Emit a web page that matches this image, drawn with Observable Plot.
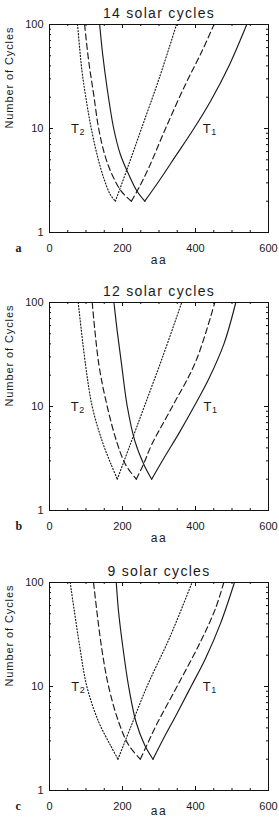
<!DOCTYPE html>
<html>
<head>
<meta charset="utf-8">
<script src="https://cdn.jsdelivr.net/npm/d3@7"></script>
<script src="https://cdn.jsdelivr.net/npm/@observablehq/plot@0.6"></script>
<style>
  html, body { margin: 0; padding: 0; background: #fff; }
  #chart { width: 279px; height: 819px; overflow: hidden; }
  #chart svg { display: block; }
</style>
</head>
<body>
<div id="chart"></div>
<script>
// ---- data ----
const titles = ["14 solar cycles", "12 solar cycles", "9 solar cycles"];
const panelLetters = ["a", "b", "c"];
const xTicks = [0, 200, 400, 600];
const xMinor = [50, 100, 150, 250, 300, 350, 450, 500, 550];
const yTicks = [1, 10, 100];
const yMinor = [2, 3, 4, 5, 6, 7, 8, 9, 20, 30, 40, 50, 60, 70, 80, 90];

// Panel a (14 solar cycles)
const aDotAA   = [76.9, 88.9, 102.6, 114.5, 130.1, 148.4, 166.7, 180.5, 214, 252, 300, 348];
const aDotN    = [100, 35.9, 17.1, 10, 5.63, 3.35, 2.31, 2, 4.2, 10, 30, 100];
const aDashAA  = [96.2, 107.2, 120.9, 134.7, 151.1, 171.3, 196.9, 224.4, 244.6, 272, 317.9, 372.8, 418.6, 450.7];
const aDashN   = [100, 44.9, 21.4, 10, 5.63, 3.61, 2.49, 2, 2.68, 4.19, 10, 26.7, 56.1, 100];
const aSolidAA = [137.4, 145.6, 157.6, 175.9, 194.2, 217.1, 240, 261, 299.5, 345.3, 395.7, 441.5, 491.9, 540.4];
const aSolidN  = [100, 52.1, 24.8, 10, 5.63, 3.61, 2.49, 2, 3.11, 5.42, 10, 18.4, 40.2, 100];

// Panel b (12 solar cycles)
const bDotAA   = [78.7, 98.8, 117, 144.5, 169, 185.7, 220, 259.8, 310, 362.2];
const bDotN    = [100, 25.1, 10, 4.62, 2.76, 2, 4.2, 10, 30, 100];
const bDashAA  = [117, 135.4, 158.2, 183.8, 208.5, 237.8, 257, 280, 336.6, 400.6, 452.8];
const bDashN   = [100, 25.1, 10, 4.62, 2.76, 2, 2.76, 4.3, 10, 27, 100];
const bSolidAA = [176.5, 185.7, 197.6, 213.1, 234.2, 258.8, 279.9, 313.7, 354.9, 396, 437.2, 478.4, 510.4];
const bSolidN  = [100, 52.4, 25.1, 10, 4.62, 2.76, 2, 3.2, 5.55, 10, 18.7, 40.5, 100];

// Panel c (9 solar cycles)
const cDotAA   = [56.7, 82.3, 102.4, 134.5, 166.5, 187.5, 224, 267, 330, 390.6];
const cDotN    = [100, 24.9, 10, 4.58, 2.74, 2, 4.2, 10, 30, 100];
const cDashAA  = [120.7, 141.8, 161.9, 189.3, 216.8, 248.8, 267, 292.7, 349.4, 413.4, 454.6, 477.5];
const cDashN   = [100, 24.9, 10, 4.58, 2.74, 2, 2.74, 4.26, 10, 26.8, 56, 100];
const cSolidAA = [182.9, 189.3, 200.3, 216.8, 236.9, 260.7, 283.5, 312.8, 349.4, 387.8, 427.1, 468.3, 506.7];
const cSolidN  = [100, 52, 24.9, 10, 4.58, 2.74, 2, 3.18, 5.51, 10, 18.5, 40.2, 100];

// Curve label positions (aa at N = 10)
const t2AA = [59, 58, 59.5];
const t1AA = [420, 421.6, 419.8];
const labelN = 10;

// ---- drawing ----
function branches(aa, n) {
  const i = n.indexOf(d3.min(n));
  const pts = aa.map((x, k) => ({aa: x, n: n[k]}));
  return [pts.slice(0, i + 1), pts.slice(i)];
}

const series = [
  {dot: [aDotAA, aDotN], dash: [aDashAA, aDashN], solid: [aSolidAA, aSolidN]},
  {dot: [bDotAA, bDotN], dash: [bDashAA, bDashN], solid: [bSolidAA, bSolidN]},
  {dot: [cDotAA, cDotN], dash: [cDashAA, cDashN], solid: [cSolidAA, cSolidN]}
];
const layout = [
  {mt: 24, mb: 38},
  {mt: 32, mb: 30},
  {mt: 42, mb: 29}
];
const FRAME_H = 208;
const ML = 49, MR = 11, W = 279;
const PW = W - ML - MR;
const ink = "#1a1a1a";
const font = "'Liberation Sans', Arial, sans-serif";

const styles = {
  solid: {},
  dash: {strokeDasharray: "6,3.5"},
  dot: {strokeDasharray: "1.1,2"}
};
const spacing = {};
titles.forEach(t => spacing[t] = "1.3px");
spacing["Number of Cycles"] = "0.9px";
spacing["aa"] = "1.5px";

series.forEach((s, p) => {
  const {mt, mb} = layout[p];
  const H = mt + FRAME_H + mb;
  const lineMarks = [];
  for (const key of ["dot", "dash", "solid"]) {
    const [aa, n] = s[key];
    for (const br of branches(aa, n)) {
      lineMarks.push(Plot.line(br, {x: "aa", y: "n", stroke: ink, strokeWidth: 1.15, curve: "catmull-rom", ...styles[key]}));
    }
  }
  const txt = {lineAnchor: "middle", fill: ink};
  const svg = Plot.plot({
    width: W, height: H,
    marginLeft: ML, marginRight: MR, marginTop: mt, marginBottom: mb,
    style: {fontFamily: font, color: ink, background: "#fff", overflow: "visible"},
    x: {domain: [0, 600], axis: null},
    y: {type: "log", domain: [1, 100], axis: null},
    marks: [
      ...lineMarks,
      Plot.frame({stroke: "#111", strokeWidth: 1}),
      // inward tick marks
      Plot.tickX(xTicks, {x: d => d, stroke: "#111", insetTop: FRAME_H - 4}),
      Plot.tickX(xTicks, {x: d => d, stroke: "#111", insetBottom: FRAME_H - 4}),
      Plot.tickX(xMinor, {x: d => d, stroke: "#111", insetTop: FRAME_H - 2}),
      Plot.tickX(xMinor, {x: d => d, stroke: "#111", insetBottom: FRAME_H - 2}),
      Plot.tickY(yTicks, {y: d => d, stroke: "#111", insetRight: PW - 4}),
      Plot.tickY(yTicks, {y: d => d, stroke: "#111", insetLeft: PW - 4}),
      Plot.tickY(yMinor, {y: d => d, stroke: "#111", insetRight: PW - 2}),
      Plot.tickY(yMinor, {y: d => d, stroke: "#111", insetLeft: PW - 2}),
      // tick labels
      Plot.text(xTicks, {x: d => d, frameAnchor: "bottom", dy: 16, text: d => String(d), fontSize: 11, ...txt}),
      Plot.text(yTicks, {y: d => d, frameAnchor: "left", dx: -6, textAnchor: "end", text: d => String(d), fontSize: 11, ...txt}),
      // axis titles
      Plot.text(["aa"], {frameAnchor: "bottom", dy: p === 2 ? 21 : 28, text: d => d, fontSize: 12, ...txt}),
      Plot.text(["Number of Cycles"], {frameAnchor: "left", dx: -40, rotate: -90, text: d => d, fontSize: 11, ...txt}),
      Plot.text([titles[p]], {frameAnchor: "top", dy: -11, text: d => d, fontSize: 14, ...txt}),
      Plot.text([panelLetters[p]], {frameAnchor: "bottom-left", dx: -34, dy: 16, text: d => d, fontSize: 12, fontWeight: "bold", fontFamily: "'Liberation Serif', 'Times New Roman', serif", ...txt}),
      // curve labels
      Plot.text([{aa: t2AA[p], n: labelN}], {x: "aa", y: "n", text: () => "T", textAnchor: "start", fontSize: 13, ...txt}),
      Plot.text([{aa: t2AA[p], n: labelN}], {x: "aa", y: "n", text: () => "2", textAnchor: "start", dx: 8.5, dy: 4, fontSize: 9, ...txt}),
      Plot.text([{aa: t1AA[p], n: labelN}], {x: "aa", y: "n", text: () => "T", textAnchor: "start", fontSize: 13, ...txt}),
      Plot.text([{aa: t1AA[p], n: labelN}], {x: "aa", y: "n", text: () => "1", textAnchor: "start", dx: 8.5, dy: 4, fontSize: 9, ...txt})
    ]
  });
  d3.select(svg).selectAll("text").each(function () {
    const t = this.textContent;
    if (spacing[t]) this.style.letterSpacing = spacing[t];
  });
  document.getElementById("chart").appendChild(svg);
});
</script>
</body>
</html>
